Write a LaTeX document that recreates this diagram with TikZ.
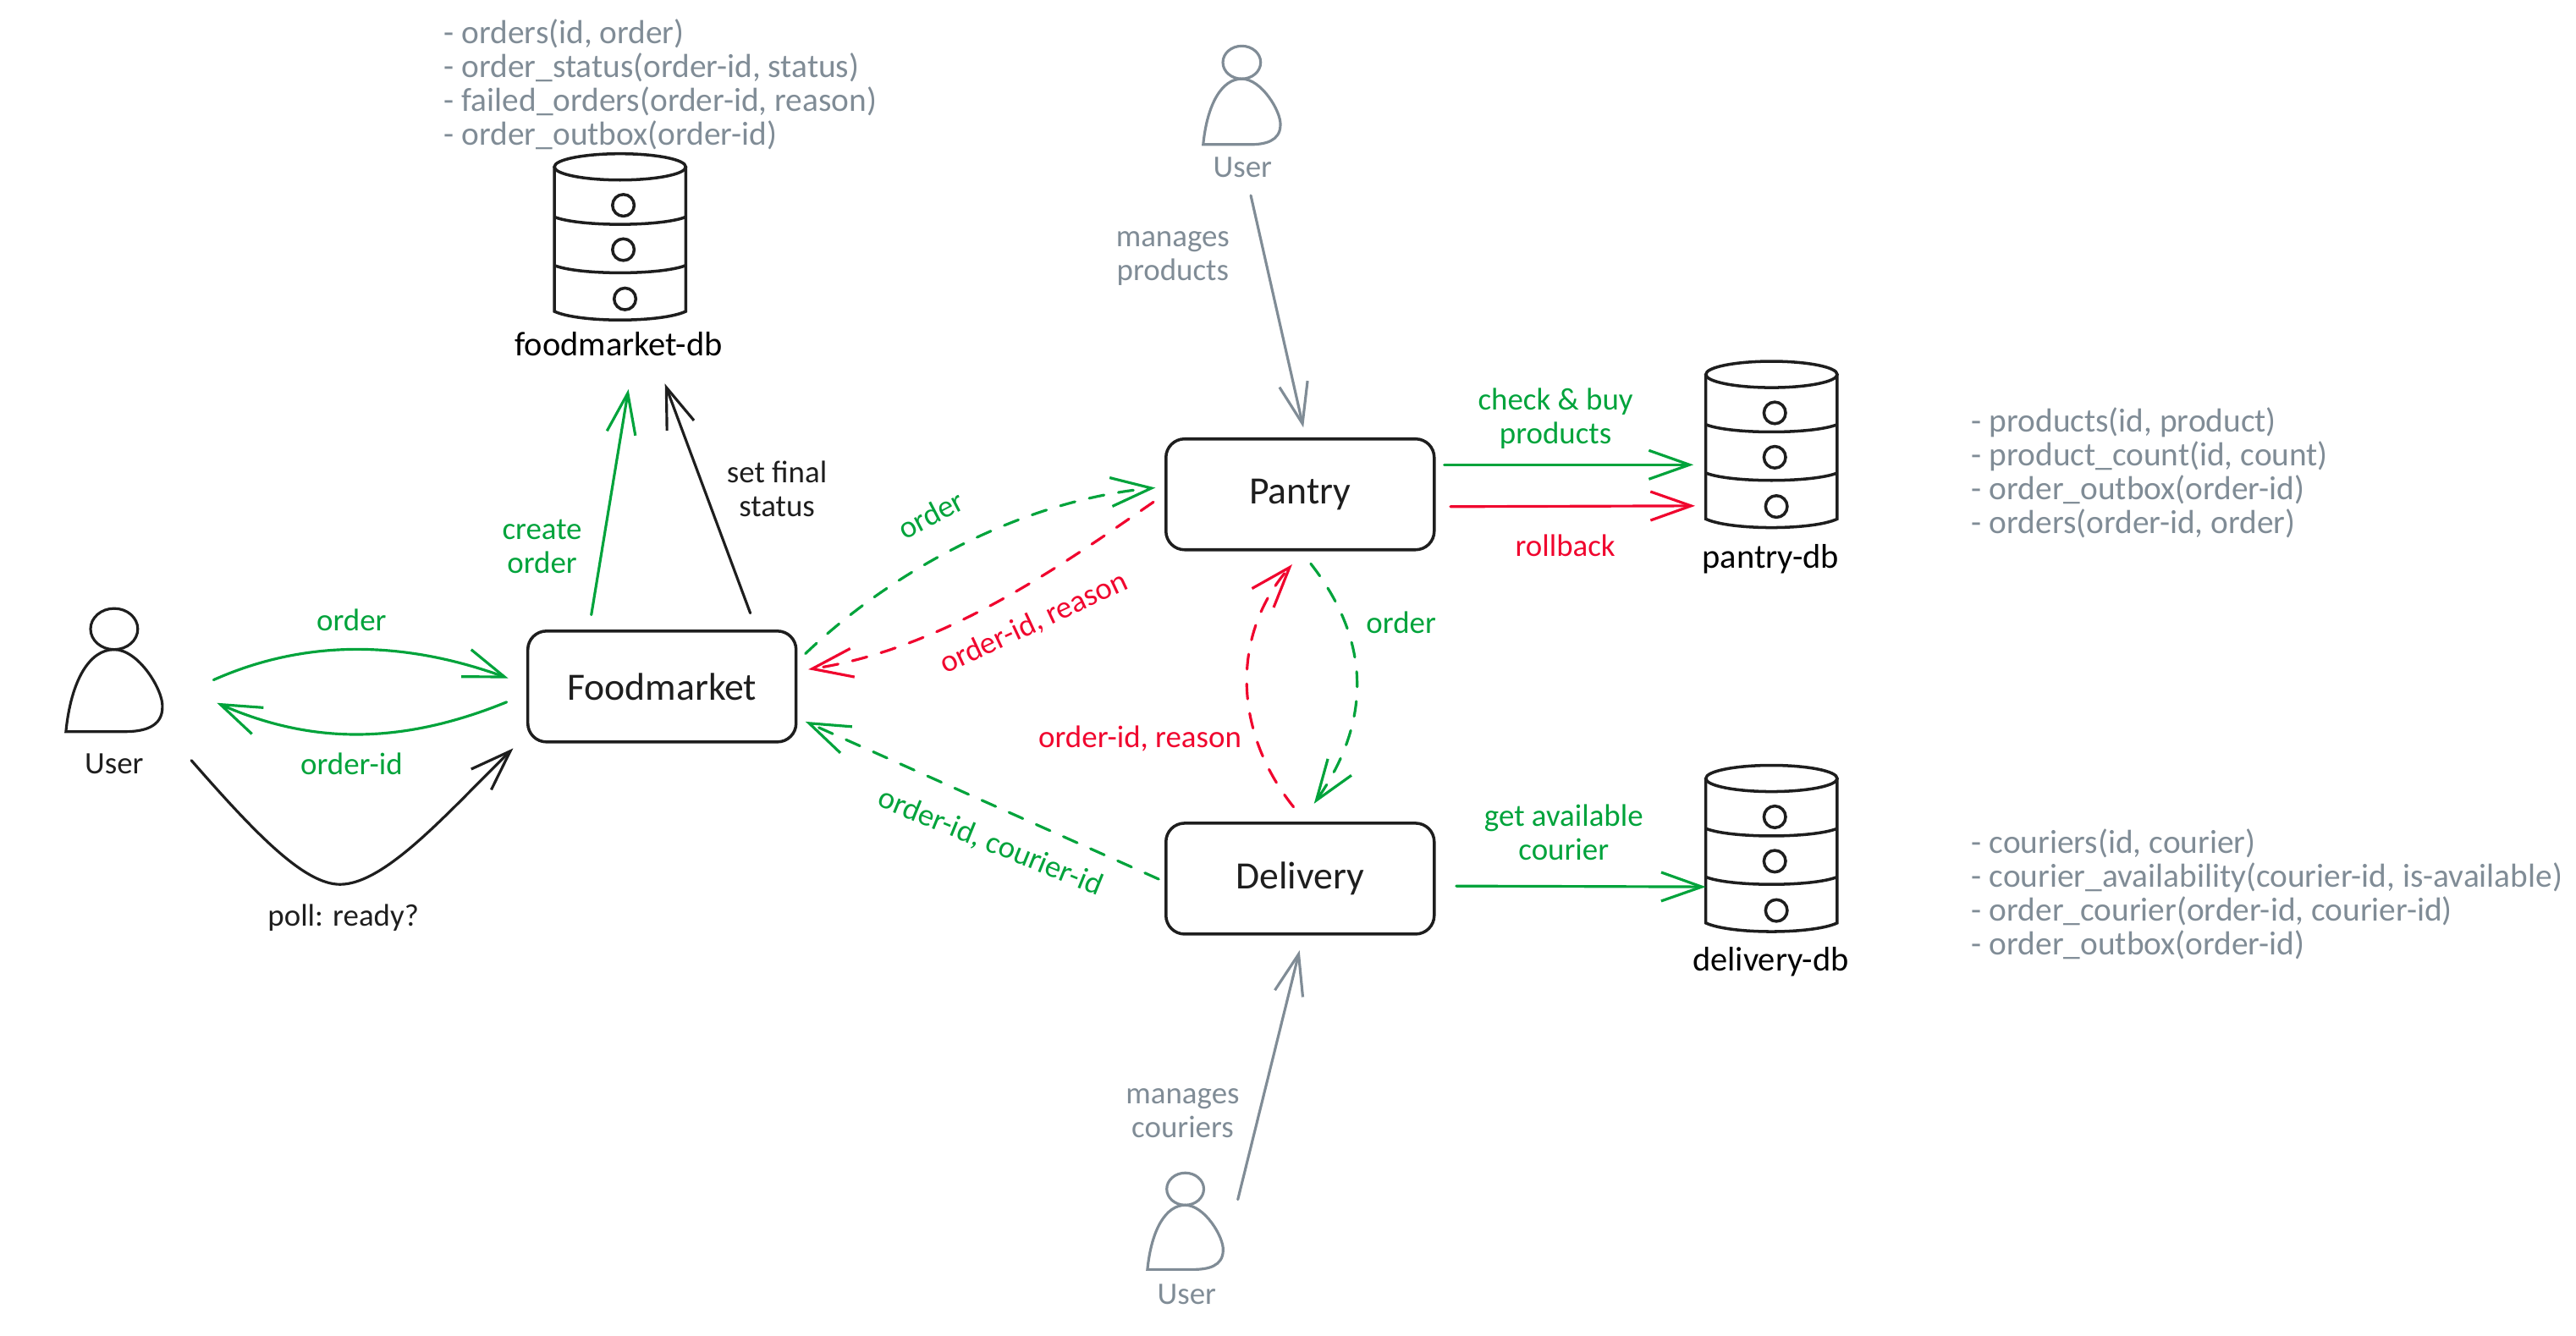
\documentclass[tikz,border=0pt]{standalone}
\usepackage{fontspec}
\setmainfont{Carlito}
\usepackage{tikz}
\usetikzlibrary{arrows.meta, calc}

\definecolor{sketchblack}{HTML}{1E1E1E}
\definecolor{sketchgreen}{HTML}{00A33B}
\definecolor{sketchred}{HTML}{F0052E}
\definecolor{sketchgray}{HTML}{808C96}

\tikzset{
    sketchbox/.style={draw=sketchblack, line width=1pt, rounded corners=0.22cm, minimum width=3.17cm, minimum height=1.31cm, inner sep=0pt, text=sketchblack, font=\fontsize{13}{14}\selectfont},
    titletext/.style={inner sep=0pt, align=center, font=\fontsize{11.5}{11.4}\selectfont},
    smalltext/.style={inner sep=0pt, align=center, font=\fontsize{10.5}{11.4}\selectfont},
    schematext/.style={inner sep=0pt, anchor=west, align=left, text=sketchgray, font=\fontsize{11.2}{11.4}\selectfont},
    sketcharrow/.style={line width=0.9pt, line cap=round, -{Straight Barb[length=4.8mm, width=3.4mm]}},
    dashedarrow/.style={sketcharrow, dash pattern=on 5.1pt off 4.9pt},
    pics/personicon/.style={code={
        \coordinate (-center) at (0,0);
        \draw[line width=0.9pt] (0,0) ellipse [x radius=11.5, y radius=10];
        \draw[line width=0.9pt] (-23.5,50) .. controls (-21,25) and (-12,10) .. (0,10) .. controls (12,10) and (24,30) .. (23.5,38) .. controls (23.5,48) and (14,50) .. (5,50) -- cycle;
    }},
    pics/database/.style={code={
        \coordinate (-west) at (-40,50);
        \draw[line width=1pt, sketchblack] (0,8) ellipse [x radius=40, y radius=8];
        \draw[line width=1pt, sketchblack] (-40,8) -- (-40,96) .. controls (-25,103) and (25,103) .. (40,96) -- (40,8);
        \draw[line width=1pt, sketchblack] (-40,38.5) .. controls (-25,44.5) and (25,44.5) .. (40,38.5);
        \draw[line width=1pt, sketchblack] (-40,68) .. controls (-25,74) and (25,74) .. (40,68);
        \draw[line width=1pt, sketchblack] (2,31.4) circle [radius=6.6];
        \draw[line width=1pt, sketchblack] (2,58.4) circle [radius=6.6];
        \draw[line width=1pt, sketchblack] (3,88.4) circle [radius=6.6];
    }},
}

\begin{document}
\begin{tikzpicture}[x=0.01941cm, y=-0.01941cm]
    \useasboundingbox (0,0) rectangle (1568.3,813);

    \node[sketchbox] (foodmarket) at (403,418) {Foodmarket};
    \node[sketchbox] (pantry) at (791.5,301) {Pantry};
    \node[sketchbox] (delivery) at (791.5,535) {Delivery};

    \pic (foodmarketdb) at (377.5,93.6) {database};
    \pic (pantrydb) at (1078.5,220) {database};
    \pic (deliverydb) at (1078.5,466) {database};
    \node[titletext, text=black] (foodmarketdblabel) at (376.6,209.6) {foodmarket-db};
    \node[titletext, text=black] (pantrydblabel) at (1078,340.5) {pantry-db};
    \node[titletext, text=black] (deliverydblabel) at (1078,585.5) {delivery-db};

    \pic[scale=1.25, color=sketchblack] (userleft) at (69.5,383) {personicon};
    \pic[color=sketchgray] (usertop) at (756,38) {personicon};
    \pic[scale=0.98, color=sketchgray] (userbottom) at (721.6,724) {personicon};
    \node[smalltext, text=sketchblack] (userleftlabel) at (69.5,465) {User};
    \node[smalltext, text=sketchgray] (usertoplabel) at (756.5,102) {User};
    \node[smalltext, text=sketchgray] (userbottomlabel) at (722.5,788) {User};

    \node[schematext] (foodmarketschema) at (270,51.3) {- orders(id, order)\\- order\_status(order-id, status)\\- failed\_orders(order-id, reason)\\- order\_outbox(order-id)};
    \node[schematext] (pantryschema) at (1200,288) {- products(id, product)\\- product\_count(id, count)\\- order\_outbox(order-id)\\- orders(order-id, order)};
    \node[schematext] (deliveryschema) at (1200,544.5) {- couriers(id, courier)\\- courier\_availability(courier-id, is-available)\\- order\_courier(order-id, courier-id)\\- order\_outbox(order-id)};

    \node[smalltext, text=sketchgreen] (orderlabel) at (214,377.5) {order};
    \node[smalltext, text=sketchgreen] (orderidlabel) at (214,465) {order-id};
    \node[smalltext, text=sketchblack] (polllabel) at (209,559) {poll: ready?};
    \node[smalltext, text=sketchgreen] (createlabel) at (330,333) {create\\order};
    \node[smalltext, text=sketchblack] (finallabel) at (473,297.5) {set final\\status};
    \node[smalltext, text=sketchgreen, rotate=27.5] (pantryorderlabel) at (566.7,313.4) {order};
    \node[smalltext, text=sketchred, rotate=25] (pantryfaillabel) at (629.4,379.5) {order-id, reason};
    \node[smalltext, text=sketchgreen, rotate=-22.2] (courierlabel) at (602.8,513) {order-id, courier-id};
    \node[smalltext, text=sketchred] (deliveryfaillabel) at (694,450) {order-id, reason};
    \node[smalltext, text=sketchgreen] (deliveryorderlabel) at (853,379) {order};
    \node[smalltext, text=sketchgreen] (buylabel) at (947,255) {check \& buy\\products};
    \node[smalltext, text=sketchred] (rollbacklabel) at (953,332) {rollback};
    \node[smalltext, text=sketchgreen] (availablelabel) at (952,507) {get available\\courier};
    \node[smalltext, text=sketchgray] (productslabel) at (714,157.5) {manages\\products};
    \node[smalltext, text=sketchgray] (courierslabel) at (720,678) {manages\\couriers};

    \coordinate (pollbottom) at (207,538.5);

    \draw[sketcharrow, sketchgreen] ($(userleft-center)+(60.5,31)$) .. controls +(55,-24.5) and +(-65,-23.5) .. ($(foodmarket.west)+(-11,-5)$);
    \draw[sketcharrow, sketchgreen] ($(foodmarket.west)+(-12,9.5)$) .. controls +(-64,26) and +(58,25.4) .. ($(userleft-center)+(62.5,45)$);
    \draw[sketcharrow, sketchblack] ($(userleft-center)+(47,80)$) .. controls +(38.5,44) and +(-22,0) .. (pollbottom) .. controls +(28,0) and +(-38,37) .. ($(foodmarket.south west)+(-8,3)$);
    \draw[sketcharrow, sketchgreen] ($(foodmarket.north)+(-43,-9)$) -- ($(foodmarketdblabel)+(6,27.4)$);
    \draw[sketcharrow, sketchblack] ($(foodmarket.north)+(53.8,-10)$) -- ($(foodmarketdblabel)+(28.2,24)$);

    \draw[dashedarrow, sketchgreen] ($(foodmarket.east)+(4.8,-20)$) .. controls +(50,-48) and +(-84,8) .. ($(pantry.west)+(-5.5,-4)$);
    \draw[dashedarrow, sketchred] ($(pantry.west)+(-6.7,4.7)$) .. controls +(-52.8,36.3) and +(83.5,-12.6) .. ($(foodmarket.east)+(6.5,-10.4)$);
    \draw[dashedarrow, sketchgreen] ($(delivery.west)+(-3.5,0.3)$) -- ($(foodmarket.east)+(4.8,21.4)$);
    \draw[dashedarrow, sketchgreen] ($(pantry.south)+(6.5,7.6)$) .. controls +(37,47.4) and +(35,-50) .. ($(delivery.north)+(8.5,-11)$);
    \draw[dashedarrow, sketchred] ($(delivery.north)+(-4,-9)$) .. controls +(-37.5,-47) and +(-36.7,42) .. ($(pantry.south)+(-4.8,8)$);

    \draw[sketcharrow, sketchgreen] ($(pantry.east)+(5.2,-18)$) -- ($(pantrydb-west)+(-7.5,13)$);
    \draw[sketcharrow, sketchred] ($(pantry.east)+(9,7.5)$) -- ($(pantrydb-west)+(-6.5,38)$);
    \draw[sketcharrow, sketchgreen] ($(delivery.east)+(12.5,4.5)$) -- ($(deliverydb-west)+(0,24)$);
    \draw[sketcharrow, sketchgray] ($(usertoplabel)+(5,17)$) -- ($(pantry.north)+(2,-6)$);
    \draw[sketcharrow, sketchgray] ($(userbottom-center)+(32,6.4)$) -- ($(delivery.south)+(-0.3,9)$);
\end{tikzpicture}
\end{document}
